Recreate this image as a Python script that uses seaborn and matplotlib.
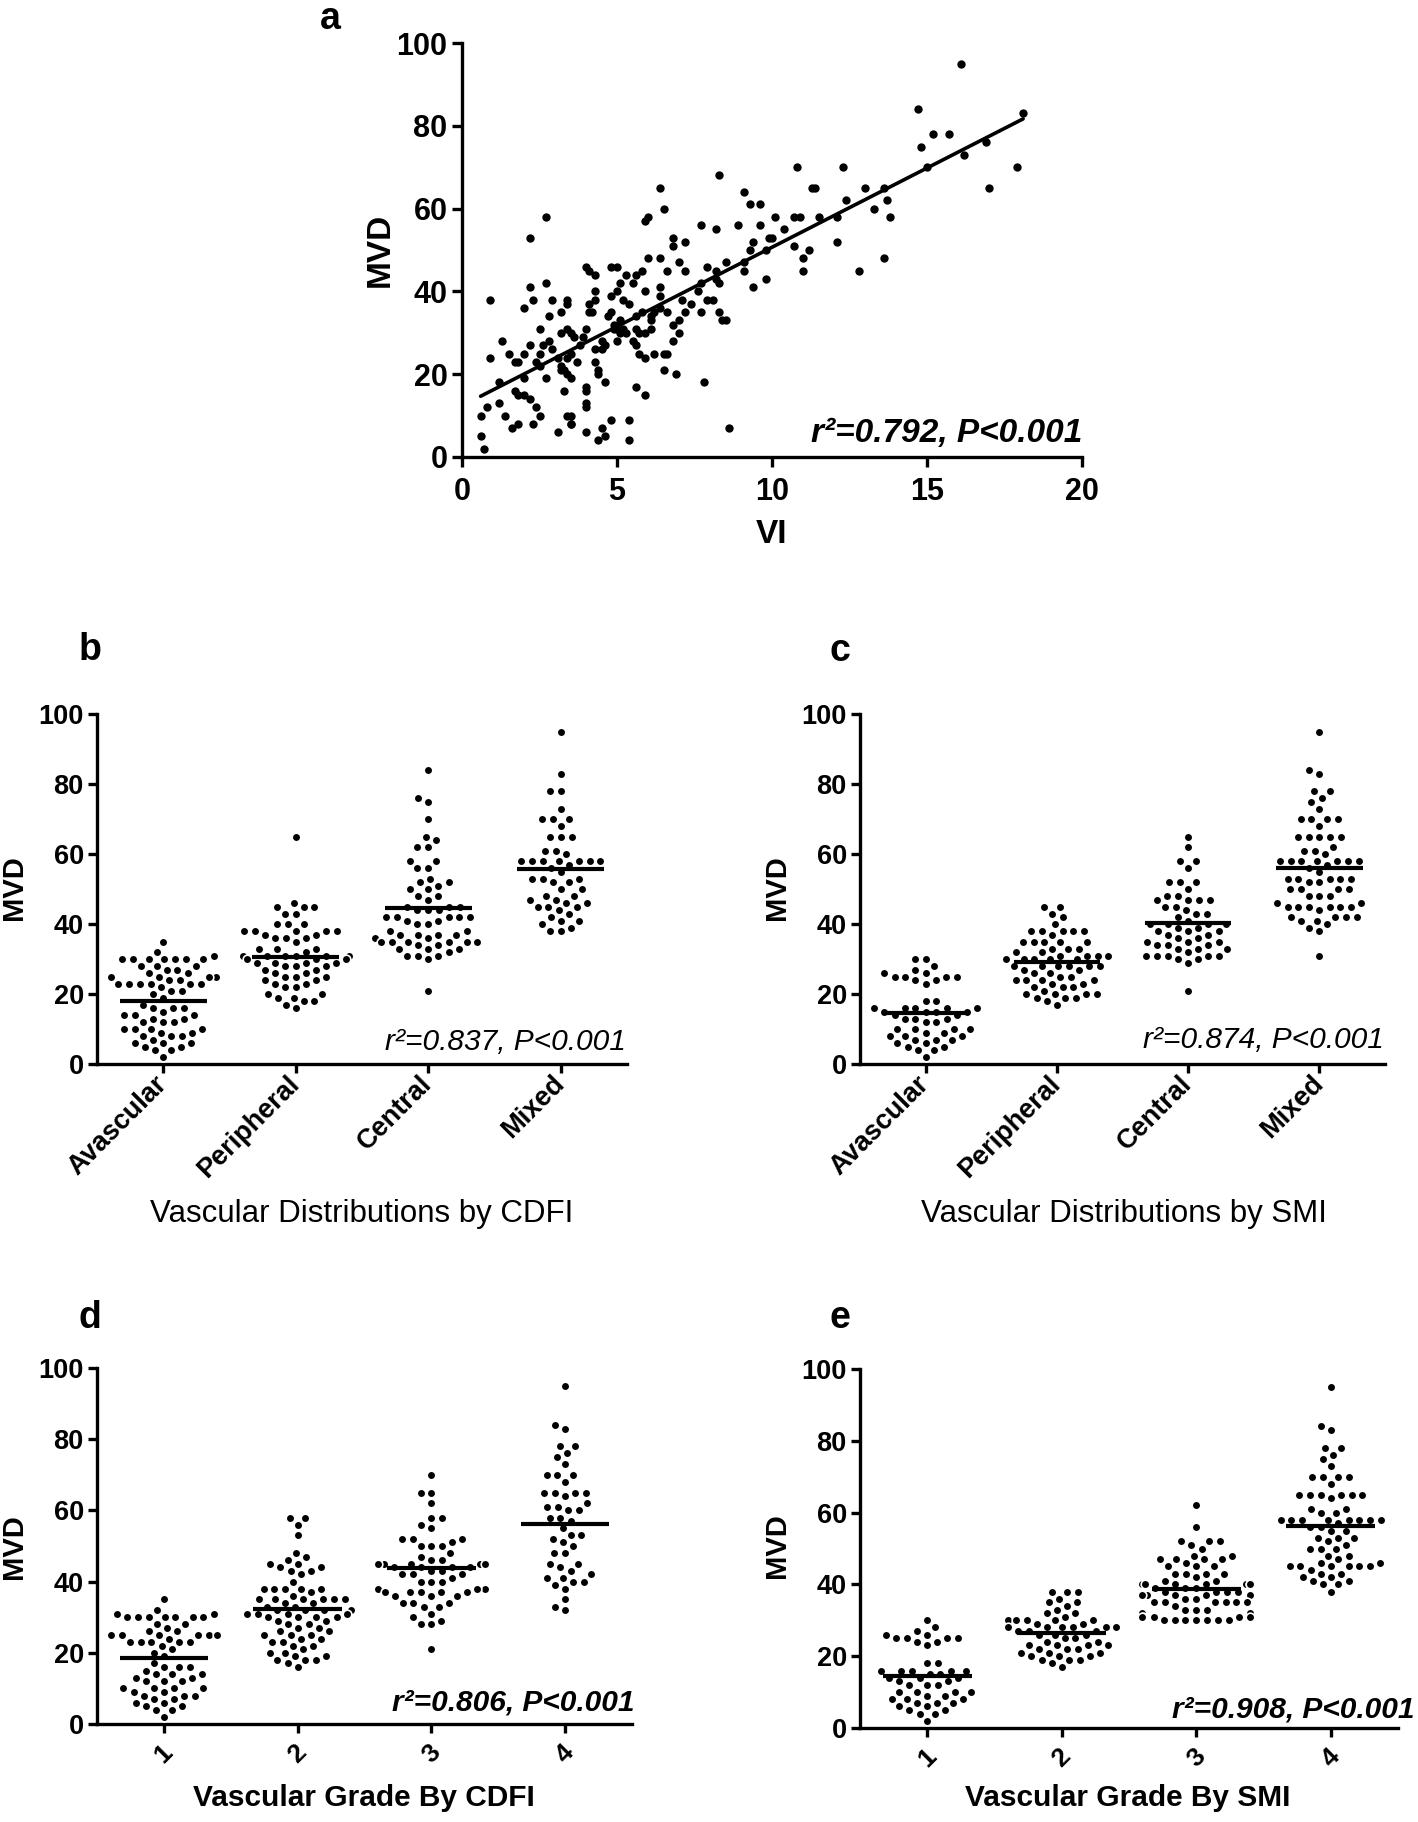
import numpy as np
import pandas as pd
import matplotlib
matplotlib.use("Agg")
import matplotlib.pyplot as plt
import seaborn as sns

# ---------------- Panel a data (VI vs MVD) ----------------
vi = [16.1, 14.7, 18.1, 15.2, 15.7, 14.8, 16.9, 16.2, 15.0, 17.9, 17.0, 10.8, 12.3, 8.3, 6.4, 6.5, 6.0, 5.9, 2.7, 2.2,
      13.0, 11.3, 11.4, 13.6, 12.4, 13.3, 13.7, 13.8, 12.1, 11.5, 10.7, 10.9, 10.1, 9.1, 9.3, 9.6, 8.9, 9.6, 7.7, 8.2,
      10.4, 6.8, 7.2, 6.8, 9.4, 9.9, 10.0, 9.3, 9.8, 12.1, 10.7, 11.2, 11.0, 13.6, 11.0, 12.8, 9.1, 9.1, 9.8, 9.4,
      8.5, 7.9, 8.2, 8.2, 8.3, 7.7, 7.0, 7.2, 6.0, 6.4, 6.6, 5.8, 4.8, 5.0, 4.0, 4.1, 4.3, 5.3, 5.6, 5.1,
      5.5, 5.9, 6.4, 6.4, 5.0, 4.3, 4.8, 5.2, 4.1, 4.1, 4.2, 4.3, 2.2, 2.3, 2.7, 2.9, 3.4, 3.4, 2.0, 0.9,
      2.8, 3.2, 2.5, 3.4, 3.5, 3.2, 3.6, 3.9, 4.0, 4.7, 4.8, 4.9, 5.0, 4.9, 5.1, 5.1, 5.2, 5.3, 5.6, 5.7,
      5.6, 5.4, 5.8, 6.1, 6.2, 6.1, 6.1, 5.9, 6.4, 6.6, 7.1, 6.8, 7.0, 7.0, 7.2, 7.4, 7.6, 7.7, 7.9, 8.1,
      8.3, 8.4, 8.5, 5.0, 5.5, 5.6, 5.7, 5.9, 6.2, 6.5, 6.6, 6.8, 6.5, 6.9, 7.8, 5.6, 5.9, 5.4, 5.4, 8.6,
      4.8, 4.5, 4.6, 4.4, 4.0, 3.5, 3.4, 3.1, 4.0, 4.0, 4.0, 4.0, 4.4, 4.4, 4.3, 4.6, 4.3, 4.5, 4.6, 4.5,
      3.8, 3.7, 3.3, 3.4, 3.5, 3.3, 3.2, 3.2, 3.1, 3.4, 3.5, 2.9, 2.8, 2.6, 2.5, 2.7, 2.4, 2.5, 2.2, 2.0,
      2.0, 1.8, 1.7, 1.5, 1.3, 1.2, 0.9, 1.7, 1.8, 2.2, 2.4, 2.5, 1.2, 1.4, 1.6, 1.8, 2.3, 0.8, 0.6, 0.6,
      0.7, 3.5, 3.5, 2.0]
mvd_a = [95, 84, 83, 78, 78, 75, 76, 73, 70, 70, 65, 70, 70, 68, 65, 60, 58, 57, 58, 53,
         65, 65, 65, 65, 62, 60, 62, 58, 58, 58, 58, 58, 58, 64, 61, 61, 56, 56, 56, 55,
         55, 53, 52, 51, 52, 53, 53, 50, 50, 52, 51, 50, 48, 48, 45, 45, 47, 45, 43, 41,
         47, 46, 45, 43, 42, 42, 47, 45, 48, 48, 45, 45, 46, 46, 46, 45, 44, 44, 44, 42,
         42, 40, 41, 39, 40, 40, 39, 38, 37, 35, 35, 38, 41, 38, 42, 38, 38, 37, 36, 38,
         34, 35, 31, 31, 30, 30, 29, 29, 31, 34, 35, 31, 31, 32, 33, 30, 31, 30, 31, 30,
         34, 37, 35, 34, 35, 33, 31, 30, 36, 35, 38, 32, 33, 30, 35, 37, 40, 35, 38, 38,
         35, 33, 33, 28, 28, 27, 25, 24, 25, 25, 25, 28, 21, 20, 18, 17, 15, 9, 4, 7,
         9, 7, 5, 4, 6, 8, 10, 6, 13, 12, 17, 16, 21, 20, 23, 18, 26, 26, 27, 28,
         27, 23, 21, 20, 19, 16, 21, 22, 24, 24, 25, 26, 28, 27, 25, 19, 23, 22, 27, 25,
         19, 23, 23, 25, 28, 18, 24, 16, 15, 14, 12, 10, 13, 10, 7, 8, 8, 12, 10, 5,
         2, 10, 8, 15]

# ---------------- Panels b-e data (MVD by group) ----------------
dist_labels = ["Avascular", "Peripheral", "Central", "Mixed"]
grade_labels = ["1", "2", "3", "4"]

b_avascular = [35, 32, 31] + [30]*7 + [28]*3 + [27]*2 + [26]*2 + [25]*6 + [24]*2 + [23]*6 + [22] + [21]*2 + \
              [20, 19, 17] + [16]*3 + [15] + [14]*3 + [13]*2 + [12]*3 + [10]*4 + [9]*2 + [8]*3 + [7] + [6]*3 + \
              [5]*2 + [4]*2 + [2]
b_peripheral = [65, 46] + [45]*3 + [43]*2 + [40]*3 + [38]*5 + [37]*2 + [36]*3 + [35] + [33]*3 + [32] + [31]*8 + \
               [30]*3 + [29]*4 + [28]*3 + [27]*2 + [26]*2 + [25]*3 + [24]*2 + [23]*2 + [22]*2 + [20]*2 + \
               [19]*2 + [18]*2 + [17, 16]
b_central = [84, 76, 75, 70, 65, 64, 62, 62, 58, 58, 56, 56, 53, 52, 52, 51, 50, 50, 48, 48, 47] + [45]*3 + \
            [44]*3 + [42]*5 + [41]*2 + [40]*2 + [38]*2 + [37]*4 + [36]*2 + [35]*6 + [34]*2 + [33]*3 + [32] + \
            [31]*3 + [30, 21]
b_mixed = [95, 83, 78, 78, 73, 70, 70, 70, 68, 65, 65, 65, 61, 61, 60] + [58]*7 + [57, 56, 55] + [53]*3 + \
          [52]*2 + [50]*2 + [48]*2 + [47]*2 + [46]*2 + [45]*3 + [44, 43, 42, 41, 41, 40, 39, 38, 38]
b_means = [18.0, 30.7, 44.7, 55.7]

c_avascular = [30, 30, 28, 27, 26, 26] + [25]*4 + [24]*2 + [23] + [18]*2 + [16]*5 + [15]*4 + [14]*2 + [13]*3 + \
              [12]*2 + [10]*4 + [9]*2 + [8]*3 + [7]*3 + [6]*2 + [5]*2 + [4]*2 + [2]
c_peripheral = [45, 45, 43, 42, 40] + [38]*5 + [37] + [35]*5 + [33]*3 + [32]*2 + [31]*4 + [30]*5 + [28]*6 + \
               [27]*2 + [26]*2 + [25]*2 + [24]*4 + [23]*2 + [22]*3 + [21] + [20]*4 + [19]*3 + [18, 17]
c_central = [65, 62, 58, 58, 56, 52, 52, 52, 50, 48, 48] + [47]*4 + [45]*2 + [44] + [43]*2 + [42, 41] + \
            [40]*4 + [39]*2 + [38]*3 + [37]*2 + [36]*2 + [35]*3 + [34]*3 + [33]*3 + [32] + [31]*5 + \
            [30]*2 + [29, 21]
c_mixed = [95, 84, 83, 78, 78, 76, 75, 73] + [70]*4 + [68] + [65]*5 + [62, 61, 61, 60] + [58]*7 + [57, 56, 55] + \
          [53]*5 + [52]*2 + [50]*4 + [48]*3 + [46]*2 + [45]*6 + [44] + [42]*4 + [41]*2 + [40, 39, 38, 31]
c_means = [14.6, 29.1, 40.2, 56.0]

d_avascular = [35, 32, 31, 31] + [30]*7 + [28]*2 + [27] + [26]*2 + [25]*6 + [24] + [23]*5 + [22, 21, 20, 19, 17] + \
              [16]*3 + [15] + [14]*3 + [13]*2 + [12]*3 + [10]*4 + [9]*2 + [8]*3 + [7]*2 + [6]*2 + [5]*2 + \
              [4]*2 + [2]
d_peripheral = [58, 58, 56, 53, 48, 47, 46, 45, 45, 44, 44, 43, 43, 42, 40] + [38]*5 + [37, 36] + [35]*6 + \
               [34]*2 + [33]*2 + [32]*4 + [31]*4 + [30]*4 + [29]*2 + [28]*2 + [27]*2 + [26]*2 + [25]*3 + \
               [24]*2 + [23]*2 + [22]*2 + [21] + [20]*2 + [19]*2 + [18]*3 + [17, 16]
d_central = [70, 65, 65, 62, 58, 58, 56, 55, 52, 52, 52, 51, 50, 50, 50, 48, 47, 46, 46] + [45]*5 + [44]*4 + \
            [43]*2 + [42]*3 + [41] + [40]*3 + [38]*3 + [37]*5 + [36]*3 + [34]*3 + [33]*2 + \
            [31, 30, 29, 28, 28, 21]
d_mixed = [95, 84, 83, 78, 78, 76, 75, 73, 70, 70, 70, 68] + [65]*4 + [64, 62, 61, 61, 60, 60, 58, 58, 57, 55,
           53, 53, 52, 51, 50, 48, 48, 45, 45, 44, 43, 42, 41, 41, 40, 40, 39, 38, 35, 33, 32]
d_means = [18.4, 32.4, 43.7, 56.3]

e_avascular = [30, 28, 27, 26, 26] + [25]*4 + [24]*2 + [23] + [18]*2 + [16]*5 + [15]*2 + [14]*3 + [13]*2 + \
              [12]*3 + [10]*4 + [9]*2 + [8]*3 + [7]*3 + [6]*2 + [5]*2 + [4]*2 + [2]
e_peripheral = [38]*3 + [36, 35, 35, 34, 33, 32, 32, 31] + [30]*5 + [29]*2 + [28]*6 + [27]*3 + [26]*3 + \
               [25]*2 + [24]*2 + [23]*4 + [22]*3 + [21]*3 + [20]*3 + [19]*3 + [18, 17]
e_central = [62, 56] + [52]*3 + [51, 50, 48, 48] + [47]*4 + [46] + [45]*3 + [43]*4 + [42, 41, 41] + [40]*7 + \
            [39]*3 + [38]*4 + [37]*6 + [36]*2 + [35]*6 + [34] + [33]*3 + [32]*2 + [31]*5 + [30]*7
e_mixed = [95, 84, 83, 78, 78, 76, 75, 73] + [70]*4 + [68] + [65]*6 + [64, 61, 61, 60, 60] + [58]*8 + \
          [57, 56, 56, 55, 55] + [53]*3 + [52, 51] + [50]*3 + [48]*2 + [47] + [46]*2 + [45]*6 + \
          [44, 43, 43, 42, 42, 41, 41, 40, 40, 38]
e_means = [14.4, 26.6, 38.7, 56.4]

stats_text = {
    "a": "r\u00b2=0.792, P<0.001",
    "b": "r\u00b2=0.837, P<0.001",
    "c": "r\u00b2=0.874, P<0.001",
    "d": "r\u00b2=0.806, P<0.001",
    "e": "r\u00b2=0.908, P<0.001",
}

# ---------------- Style ----------------
sns.set_theme(style="ticks")
plt.rcParams['font.family'] = ['Liberation Sans', 'DejaVu Sans']
plt.rcParams['axes.linewidth'] = 2.4
plt.rcParams['axes.edgecolor'] = 'black'
plt.rcParams['xtick.color'] = 'black'
plt.rcParams['ytick.color'] = 'black'
plt.rcParams['text.color'] = 'black'
plt.rcParams['axes.labelcolor'] = 'black'

W, H = 1418, 1822
fig = plt.figure(figsize=(W / 100, H / 100), dpi=100)
fig.patch.set_facecolor('white')


def add_ax(l, r, t, b):
    return fig.add_axes([l / W, 1 - b / H, (r - l) / W, (b - t) / H])


def fpos(px, py):
    return px / W, 1 - py / H


def style_axis(ax, labelsize, ticklen, pad_x, pad_y):
    sns.despine(ax=ax)
    ax.tick_params(axis='both', width=2.4, length=ticklen, labelsize=labelsize, direction='out')
    ax.tick_params(axis='x', pad=pad_x)
    ax.tick_params(axis='y', pad=pad_y)
    ax.set_ylim(0, 100)
    ax.set_yticks(range(0, 101, 20))
    for t in ax.get_yticklabels():
        t.set_fontweight('bold')
    ax.set_facecolor('white')


# ---------------- Panel a ----------------
axa = add_ax(462, 1082, 43, 457)
sns.regplot(x=np.array(vi), y=np.array(mvd_a), ax=axa, ci=None, color='black',
            scatter_kws=dict(s=36, linewidths=0, alpha=1, clip_on=False, zorder=3),
            line_kws=dict(lw=2.6, color='black', zorder=4))
axa.set_xlim(0, 20)
axa.set_xticks([0, 5, 10, 15, 20])
style_axis(axa, 22, 7.5, 7, 3)
for t in axa.get_xticklabels():
    t.set_fontweight('bold')
axa.set_ylabel('MVD', fontsize=24, fontweight='bold', va='center')
axa.yaxis.set_label_coords(*fpos(380, 250), transform=fig.transFigure)
axa.set_xlabel('VI', fontsize=24, fontweight='bold', va='center')
axa.xaxis.set_label_coords(*fpos(772, 534), transform=fig.transFigure)
axa.text(20, 3.7, stats_text["a"], ha='right', va='baseline', fontsize=24,
         fontweight='bold', fontstyle='italic')
fig.text(*fpos(330, 1), 'a', ha='center', va='top', fontsize=27, fontweight='bold')


# ---------------- Swarm panels ----------------
def swarm_panel(box, groups, names, means, letter, letter_xy, ylab_xy, xlabel, xlab_xy,
                xlab_bold, xlab_size, stat, stat_x, stat_y, stat_bold, numeric):
    ax = add_ax(*box)
    df = pd.DataFrame({
        'group': np.repeat(names, [len(g) for g in groups]),
        'MVD': np.concatenate([np.asarray(g, float) for g in groups]),
    })
    sns.swarmplot(data=df, x='group', y='MVD', order=names, ax=ax, color='black',
                  size=6.2, linewidth=1.2, edgecolor='white', zorder=3)
    pos = np.arange(len(names))
    ax.hlines(means, pos - 0.33, pos + 0.33, color='black', lw=3.0, zorder=5)
    ax.set_xlim(-0.5, 3.5)
    style_axis(ax, 19.5, 6.5, 5, 3)
    if numeric:
        ax.tick_params(axis='x', pad=5)
        for t in ax.get_xticklabels():
            t.set_rotation(45)
            t.set_ha('center')
            t.set_fontsize(19)
            t.set_fontweight('bold')
    else:
        for t in ax.get_xticklabels():
            t.set_rotation(45)
            t.set_ha('right')
            t.set_va('center')
            t.set_rotation_mode('anchor')
            t.set_fontsize(19.5)
            t.set_fontweight('bold')
    ax.set_ylabel('MVD', fontsize=21, fontweight='bold', va='center')
    ax.yaxis.set_label_coords(*fpos(*ylab_xy), transform=fig.transFigure)
    ax.set_xlabel(xlabel, fontsize=xlab_size, fontweight='bold' if xlab_bold else 'normal', va='center')
    ax.xaxis.set_label_coords(*fpos(*xlab_xy), transform=fig.transFigure)
    ax.text(stat_x, stat_y, stat, ha='right', va='baseline', fontsize=21.5,
            fontweight='bold' if stat_bold else 'normal', fontstyle='italic', clip_on=False)
    fig.text(*fpos(*letter_xy), letter, ha='center', va='center', fontsize=27, fontweight='bold')
    return ax


swarm_panel((97, 627, 714, 1064), [b_avascular, b_peripheral, b_central, b_mixed], dist_labels, b_means,
            'b', (90, 650), (14, 888), 'Vascular Distributions by CDFI', (362, 1214), False, 22.5,
            stats_text["b"], 3.49, 4.0, False, False)
swarm_panel((860, 1385, 714, 1064), [c_avascular, c_peripheral, c_central, c_mixed], dist_labels, c_means,
            'c', (840, 651), (777, 888), 'Vascular Distributions by SMI', (1124, 1214), False, 22.5,
            stats_text["c"], 3.49, 4.7, False, False)
swarm_panel((97, 632, 1368, 1724), [d_avascular, d_peripheral, d_central, d_mixed], grade_labels, d_means,
            'd', (90, 1318), (14, 1547), 'Vascular Grade By CDFI', (364, 1798), True, 21.5,
            stats_text["d"], 3.52, 3.9, True, True)
swarm_panel((860, 1398, 1369, 1728), [e_avascular, e_peripheral, e_central, e_mixed], grade_labels, e_means,
            'e', (840, 1318), (777, 1546), 'Vascular Grade By SMI', (1128, 1798), True, 21.5,
            stats_text["e"], 3.62, 2.8, True, True)

fig.savefig('out.png', dpi=100, facecolor='white')
